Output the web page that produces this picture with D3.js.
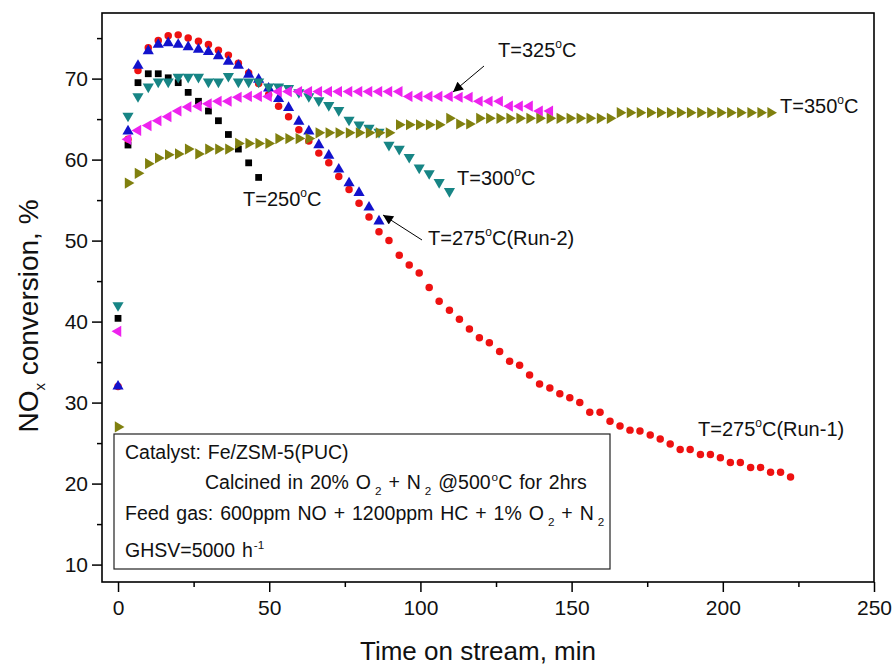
<!DOCTYPE html>
<html>
<head>
<meta charset="utf-8">
<script src="https://cdn.jsdelivr.net/npm/d3@7"></script>
<style>
  html, body { margin: 0; padding: 0; background: #fff; }
  svg text { font-family: Arial, "Liberation Sans", sans-serif; fill: #111; }
</style>
</head>
<body>
<svg id="chart" width="893" height="670"></svg>
<script>
// Sampling times (min) shared by all runs
const times = [0, 3.3, 6.6, 10.0, 13.3, 16.6, 19.9, 23.2, 26.6, 29.9, 33.2, 36.5, 39.8, 43.2, 46.5, 49.8,
  53.1, 56.4, 59.8, 63.1, 66.4, 69.7, 73.0, 76.4, 79.7, 83.0, 86.3, 89.6, 93.0, 96.3, 99.6, 102.9,
  106.2, 109.6, 112.9, 116.2, 119.5, 122.8, 126.2, 129.5, 132.8, 136.1, 139.4, 142.8, 146.1, 149.4,
  152.7, 156.0, 159.4, 162.7, 166.0, 169.3, 172.6, 176.0, 179.3, 182.6, 185.9, 189.2, 192.6, 195.9,
  199.2, 202.5, 205.8, 209.2, 212.5, 215.8, 219.1, 222.4];

// NOx conversion (%) per run
const t250 = [40.4, 61.8, 69.5, 70.6, 70.6, 70.1, 69.5, 68.3, 67.2, 66.0, 64.8, 63.1, 61.3, 59.6, 57.8];
const t275run1 = [32.0, 62.5, 71.0, 73.8, 74.7, 75.3, 75.4, 75.0, 74.6, 74.2, 73.5, 72.9, 71.9, 70.7, 69.4, 68.0,
  66.6, 65.3, 63.7, 62.3, 60.8, 59.6, 57.9, 56.3, 54.6, 52.9, 51.1, 50.0, 48.2, 47.0, 46.0, 44.2,
  42.5, 41.4, 40.3, 39.1, 38.0, 37.4, 36.3, 35.1, 34.6, 33.4, 32.3, 31.8, 31.1, 30.6, 30.0, 28.8,
  28.8, 27.7, 27.1, 26.6, 26.5, 26.0, 25.5, 24.9, 24.2, 24.2, 23.6, 23.6, 23.2, 22.6, 22.6, 22.0,
  22.0, 21.4, 21.4, 20.8];
const t275run2 = [32.0, 63.5, 71.6, 73.4, 74.2, 74.4, 74.2, 73.9, 73.6, 73.3, 72.8, 72.1, 71.6, 70.5, 69.9, 68.8,
  67.5, 66.4, 64.7, 63.5, 61.8, 60.5, 58.8, 57.1, 55.9, 54.1, 52.4];
const t300 = [42.0, 65.4, 67.8, 69.0, 69.6, 69.6, 70.2, 70.2, 70.2, 69.6, 69.6, 70.3, 69.6, 69.6, 69.6, 69.0,
  69.0, 68.8, 68.3, 67.8, 67.3, 66.7, 66.1, 64.9, 64.3, 63.9, 63.4, 61.8, 61.3, 60.3, 59.0, 58.3,
  57.2, 56.1];
const t325 = [38.8, 62.5, 63.6, 64.2, 64.8, 65.3, 66.0, 66.5, 66.6, 66.9, 67.2, 67.2, 67.7, 67.8, 67.8, 67.8,
  68.4, 68.4, 68.4, 68.4, 68.4, 68.4, 68.4, 68.4, 68.4, 68.4, 68.4, 68.4, 68.4, 67.8, 67.8, 67.8,
  67.8, 67.8, 67.7, 67.7, 67.2, 67.2, 67.2, 66.6, 66.6, 66.6, 66.0, 66.0];
const t350 = [27.0, 57.1, 58.3, 59.5, 60.2, 60.6, 60.7, 61.3, 60.7, 61.3, 61.3, 61.3, 62.0, 62.0, 62.0, 62.0,
  62.6, 62.6, 62.6, 62.6, 63.3, 63.3, 63.3, 63.3, 63.3, 63.3, 63.3, 63.3, 64.3, 64.3, 64.3, 64.3,
  64.3, 65.1, 64.4, 64.4, 65.1, 65.1, 65.1, 65.1, 65.1, 65.1, 65.1, 65.1, 65.1, 65.1, 65.1, 65.1,
  65.1, 65.1, 65.8, 65.8, 65.8, 65.8, 65.8, 65.8, 65.8, 65.8, 65.8, 65.8, 65.8, 65.8, 65.8, 65.8,
  65.8, 65.8];

const xTicks = [0, 50, 100, 150, 200, 250];
const yTicks = [10, 20, 30, 40, 50, 60, 70];

const series = [
  { name: "250", values: t250, color: "#000000", shape: "square" },
  { name: "275-1", values: t275run1, color: "#ee1111", shape: "circle" },
  { name: "275-2", values: t275run2, color: "#1212cc", shape: "up" },
  { name: "300", values: t300, color: "#178585", shape: "down" },
  { name: "325", values: t325, color: "#ee22ee", shape: "left" },
  { name: "350", values: t350, color: "#80800f", shape: "right" }
];

const svg = d3.select("#chart");
const plot = { left: 102, right: 874, top: 13, bottom: 582 };

const x = d3.scaleLinear().domain([-5.3, 250]).range([plot.left, plot.right]);
const y = d3.scaleLinear().domain([7.85, 78.1]).range([plot.bottom, plot.top]);

// Axes
const xAxis = svg.append("g").attr("transform", `translate(0,${plot.bottom})`)
  .call(d3.axisBottom(x).tickValues(xTicks).tickSize(10).tickPadding(8).tickFormat(d3.format("d")));
const xMinor = svg.append("g").attr("transform", `translate(0,${plot.bottom})`)
  .call(d3.axisBottom(x).tickValues([25, 75, 125, 175, 225]).tickSize(5).tickFormat(""));
const yAxis = svg.append("g").attr("transform", `translate(${plot.left},0)`)
  .call(d3.axisLeft(y).tickValues(yTicks).tickSize(10).tickPadding(4).tickFormat(d3.format("d")));
const yMinor = svg.append("g").attr("transform", `translate(${plot.left},0)`)
  .call(d3.axisLeft(y).tickValues([15, 25, 35, 45, 55, 65, 75]).tickSize(5).tickFormat(""));

[xAxis, xMinor, yAxis, yMinor].forEach(g => {
  g.select(".domain").remove();
  g.selectAll(".tick line").attr("stroke", "#000").attr("stroke-width", 1.5);
});
xAxis.selectAll(".tick text").attr("font-size", 21).attr("fill", "#222");
yAxis.selectAll(".tick text").attr("font-size", 21).attr("fill", "#222");

// Frame
svg.append("rect")
  .attr("x", plot.left).attr("y", plot.top)
  .attr("width", plot.right - plot.left).attr("height", plot.bottom - plot.top)
  .attr("fill", "none").attr("stroke", "#000").attr("stroke-width", 1.6);

// Axis titles
svg.append("text")
  .attr("x", (plot.left + plot.right) / 2 - 10).attr("y", 660)
  .attr("text-anchor", "middle").attr("font-size", 26)
  .text("Time on stream, min");

const yt = svg.append("text")
  .attr("transform", "translate(38,316) rotate(-90)")
  .attr("text-anchor", "middle").attr("font-size", 28);
yt.append("tspan").text("NO");
yt.append("tspan").attr("font-size", 15).attr("dy", 7).text("x");
yt.append("tspan").attr("dy", -7).text(" conversion, %");

// Info box
const box = svg.append("g");
box.append("rect").attr("x", 114).attr("y", 434).attr("width", 496).attr("height", 135)
  .attr("fill", "#fff").attr("stroke", "#222").attr("stroke-width", 1.2);

function richText(g, xPos, yPos, parts, size) {
  const t = g.append("text").attr("x", xPos).attr("y", yPos).attr("font-size", size)
    .attr("word-spacing", 1.5);
  parts.forEach(p => {
    const s = t.append("tspan").text(p.t);
    if (p.sub) s.attr("font-size", size * 0.6).attr("dy", 6).attr("dx", 4);
    if (p.sup) s.attr("font-size", size * 0.6).attr("dy", -8).attr("dx", 1);
    if (p.back) s.attr("dy", p.back);
  });
  return t;
}

richText(box, 125, 459, [{ t: "Catalyst: Fe/ZSM-5(PUC)" }], 19.5);
richText(box, 205, 489, [
  { t: "Calcined in 20% O" }, { t: "2", sub: true }, { t: " + N", back: -6 }, { t: "2", sub: true },
  { t: " @500", back: -6 }, { t: "o", sup: true }, { t: "C for 2hrs", back: 8 }
], 19.5);
richText(box, 125, 520, [
  { t: "Feed gas: 600ppm NO + 1200ppm HC + 1% O" }, { t: "2", sub: true }, { t: " + N", back: -6 },
  { t: "2", sub: true }
], 19.5);
richText(box, 125, 557, [{ t: "GHSV=5000 h" }, { t: "-1", sup: true }], 19.5);

// Markers
const triangle = d3.symbol().type(d3.symbolTriangle).size(54)();
const shapes = {
  square: d3.symbol().type(d3.symbolSquare).size(46)(),
  circle: d3.symbol().type(d3.symbolCircle).size(44)(),
  up: triangle, down: triangle, left: triangle, right: triangle
};
const rotation = { square: 0, circle: 0, up: 0, down: 180, left: -90, right: 90 };

series.forEach(s => {
  svg.append("g").selectAll("path")
    .data(s.values.map((v, i) => ({ t: times[i], v })))
    .join("path")
    .attr("d", shapes[s.shape])
    .attr("transform", d => `translate(${x(d.t)},${y(d.v)}) rotate(${rotation[s.shape]})`)
    .attr("fill", s.color);
});

// Curve labels
function tempLabel(xPos, yPos, suffix) {
  const t = svg.append("text").attr("x", xPos).attr("y", yPos).attr("font-size", 20);
  t.append("tspan").text("T=" + suffix.temp);
  t.append("tspan").attr("font-size", 12).attr("dy", -9).text("o");
  t.append("tspan").attr("dy", 9).text("C" + (suffix.run || ""));
}
tempLabel(243, 206, { temp: "250" });
tempLabel(457, 185, { temp: "300" });
tempLabel(428, 245, { temp: "275", run: "(Run-2)" });
tempLabel(698, 436, { temp: "275", run: "(Run-1)" });
tempLabel(498, 57, { temp: "325" });
tempLabel(780, 113, { temp: "350" });

// Arrows
const defs = svg.append("defs");
defs.append("marker").attr("id", "head").attr("viewBox", "0 0 10 10")
  .attr("refX", 10).attr("refY", 5).attr("markerWidth", 14).attr("markerHeight", 10)
  .attr("markerUnits", "userSpaceOnUse").attr("orient", "auto")
  .append("path").attr("d", "M0,0 L10,5 L0,10 Z").attr("fill", "#000");

function arrow(x1, y1, x2, y2) {
  svg.append("line").attr("x1", x1).attr("y1", y1).attr("x2", x2).attr("y2", y2)
    .attr("stroke", "#000").attr("stroke-width", 1).attr("marker-end", "url(#head)");
}
arrow(484, 66, 453, 92);
arrow(422, 240, 383, 215);
</script>
</body>
</html>
